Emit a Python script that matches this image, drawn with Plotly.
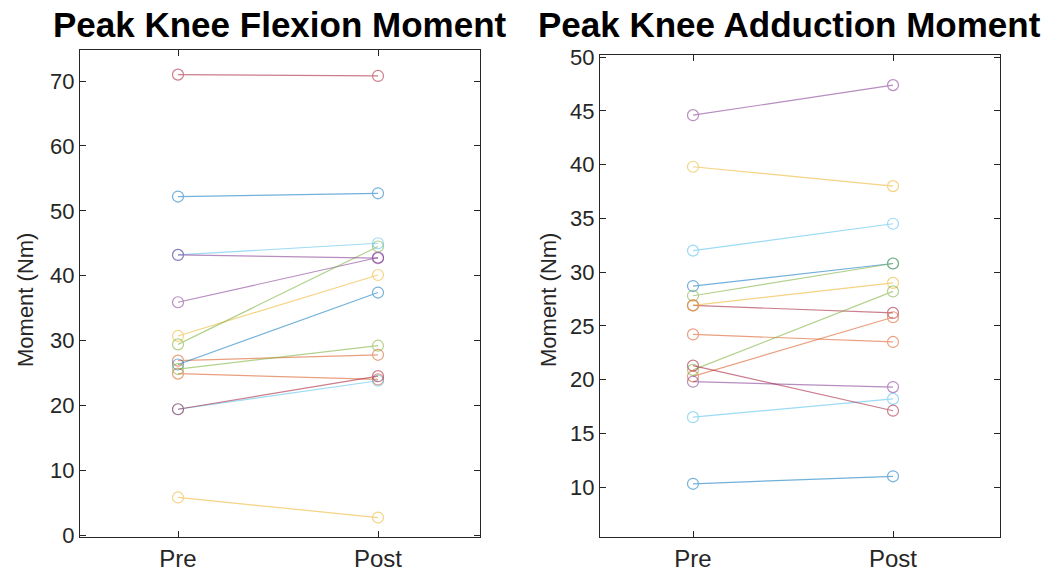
import plotly.graph_objects as go

conditions = ["Pre", "Post"]
colors = ["#0072BD", "#D95319", "#EDB120", "#7E2F8E", "#77AC30", "#4DBEEE", "#A2142F"]

# Peak knee flexion moment (Nm), subject pairs ordered by colour
flex_pre = [52.2, 26.9, 30.7, 35.9, 29.4, 43.2, 71.0,
            26.3, 24.9, 5.8, 43.2, 25.6, 19.4, 19.4]
flex_post = [52.7, 27.8, 40.1, 42.8, 44.5, 45.0, 70.8,
             37.4, 24.0, 2.7, 42.7, 29.2, 23.8, 24.5]

# Peak knee adduction moment (Nm)
add_pre = [28.7, 24.2, 39.8, 44.6, 27.8, 32.0, 26.9,
           10.3, 20.3, 26.9, 19.8, 20.9, 16.5, 21.3]
add_post = [30.8, 23.5, 38.0, 47.4, 30.8, 34.5, 26.2,
            11.0, 25.8, 29.0, 19.3, 28.2, 18.2, 17.1]

flex_ticks = [0, 10, 20, 30, 40, 50, 60, 70]
add_ticks = [10, 15, 20, 25, 30, 35, 40, 45, 50]

fig = go.Figure()

def add_panel(pre, post, xa, ya):
    for i, (a, b) in enumerate(zip(pre, post)):
        c = colors[i % len(colors)]
        fig.add_trace(go.Scatter(
            x=[1, 2], y=[a, b], mode="lines+markers",
            line=dict(color=c, width=1.2),
            marker=dict(symbol="circle-open", size=11, color=c, line=dict(width=1.2)),
            opacity=0.55, showlegend=False, xaxis=xa, yaxis=ya,
            hoverinfo="skip"))

add_panel(flex_pre, flex_post, "x", "y")
add_panel(add_pre, add_post, "x2", "y2")

W, H = 1060, 575
axcol = "#262626"
tickfont = dict(family="Liberation Sans, Arial, sans-serif", size=22, color=axcol)
xtickfont = dict(family="Liberation Sans, Arial, sans-serif", size=24, color=axcol)

common_x = dict(tickvals=[1, 2], ticktext=conditions, ticks="inside", ticklen=6,
                tickcolor=axcol, showline=True, linecolor=axcol, linewidth=1,
                mirror="allticks", showgrid=False, zeroline=False, tickfont=xtickfont,
                automargin=False)
common_y = dict(ticks="inside", ticklen=6, tickcolor=axcol, showline=True,
                linecolor=axcol, linewidth=1, mirror="allticks", showgrid=False,
                zeroline=False, tickfont=tickfont, automargin=False)

fig.update_layout(
    width=W, height=H, margin=dict(l=0, r=0, t=0, b=0, autoexpand=False),
    plot_bgcolor="white", paper_bgcolor="white",
    xaxis=dict(domain=[80 / W, 480 / W], range=[0.51, 2.51], anchor="y", **common_x),
    yaxis=dict(domain=[1 - 537 / H, 1 - 50 / H], range=[-0.3, 74.8], anchor="x",
               tickvals=flex_ticks, **common_y),
    xaxis2=dict(domain=[600 / W, 1000 / W], range=[0.535, 2.535], anchor="y2", **common_x),
    yaxis2=dict(domain=[1 - 537 / H, 1 - 55 / H], range=[5.35, 50.2], anchor="x2",
                tickvals=add_ticks, **common_y),
)

titlefont = dict(family="Liberation Sans, Arial, sans-serif", size=35, color="black")
labfont = dict(family="Liberation Sans, Arial, sans-serif", size=22, color=axcol)
fig.add_annotation(text="<b>Peak Knee Flexion Moment</b>", x=280 / W, y=1 - 25 / H,
                   xref="paper", yref="paper", showarrow=False, font=titlefont,
                   xanchor="center", yanchor="middle")
fig.add_annotation(text="<b>Peak Knee Adduction Moment</b>", x=790 / W, y=1 - 25 / H,
                   xref="paper", yref="paper", showarrow=False, font=titlefont,
                   xanchor="center", yanchor="middle")
fig.add_annotation(text="Moment (Nm)", x=25 / W, y=1 - 300 / H, xref="paper", yref="paper",
                   showarrow=False, textangle=-90, font=labfont,
                   xanchor="center", yanchor="middle")
fig.add_annotation(text="Moment (Nm)", x=548 / W, y=1 - 300 / H, xref="paper", yref="paper",
                   showarrow=False, textangle=-90, font=labfont,
                   xanchor="center", yanchor="middle")

fig.write_html("out.html")
